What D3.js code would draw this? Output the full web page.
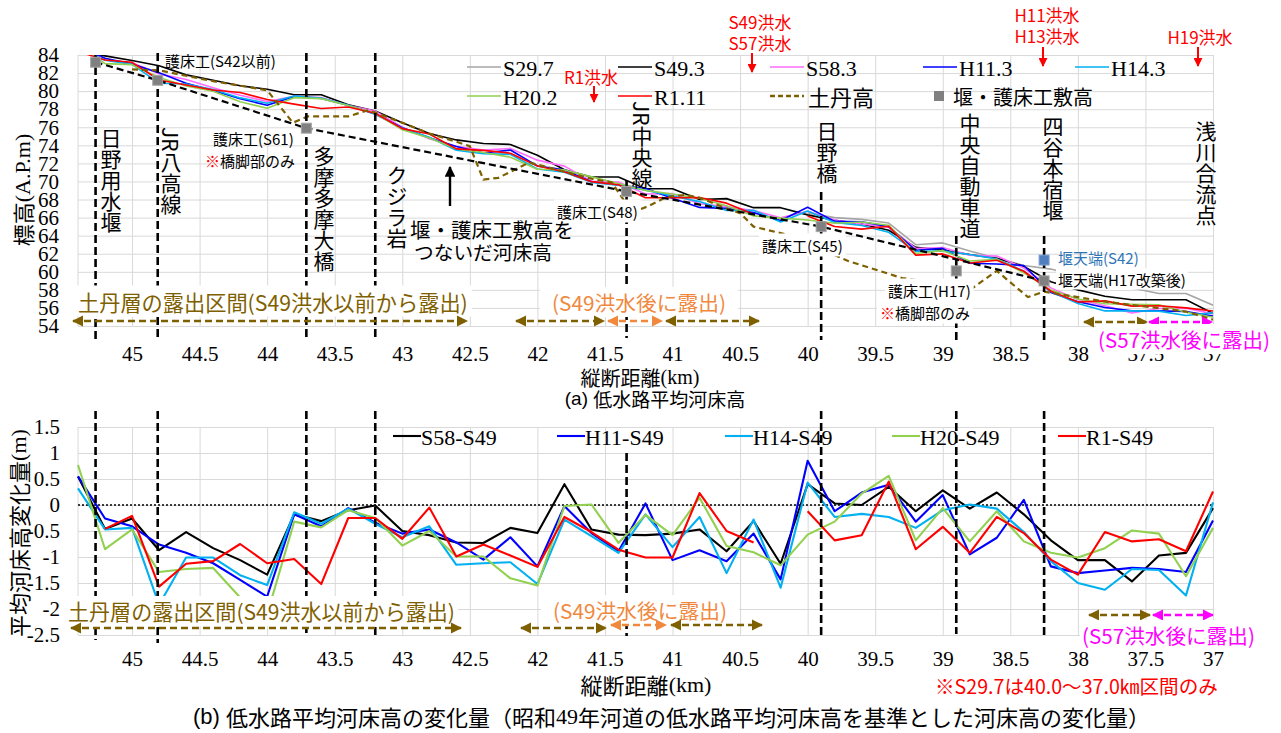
<!DOCTYPE html>
<html lang="ja">
<head>
<meta charset="utf-8">
<title>低水路平均河床高</title>
<script src="https://cdn.jsdelivr.net/npm/d3@7/dist/d3.min.js"></script>
<style>
  html, body { margin: 0; padding: 0; background: #fff; }
  svg { display: block; }
</style>
</head>
<body>
<svg id="chart" width="1281" height="733"></svg>
<script>
// ---------------- data ----------------
// survey sections (km from river mouth)
const sectionKm = [45.4, 45.2, 45.0, 44.8, 44.6, 44.4, 44.2, 44.0, 43.8, 43.6, 43.4, 43.2, 43.0, 42.8, 42.6,
  42.4, 42.2, 42.0, 41.8, 41.6, 41.4, 41.2, 41.0, 40.8, 40.6, 40.4, 40.2, 40.0, 39.8, 39.6, 39.4,
  39.2, 39.0, 38.8, 38.6, 38.4, 38.2, 38.0, 37.8, 37.6, 37.4, 37.2, 37.0];

// (a) mean low-water channel bed elevation, A.P.m
const bedS297 = [null, null, null, null, null, null, null, null, null, null, null, null, null, null, null,
  null, null, null, null, null, null, null, null, null, null, null, null, 66.5, 66.0, 65.8, 65.4,
  63.0, 63.2, 62.3, 61.5, 60.7, 60.3, 59.5, 58.9, 58.2, 57.6, 57.6, 56.3];
const bedS493 = [84.4, 83.9, 83.4, 82.8, 81.8, 81.2, 80.6, 80.2, 79.6, 79.6, 78.5, 77.8, 76.5, 75.3, 74.6,
  74.2, 74.1, 72.9, 71.3, 70.5, 70.5, 69.2, 69.2, 68.0, 68.1, 67.1, 67.1, 66.3, 65.7, 65.3, 64.6,
  62.7, 62.4, 61.9, 61.5, 60.6, 58.9, 58.0, 57.3, 56.9, 56.9, 56.9, 55.4];
const bedS583 = [84.95, 83.44, 83.14, 81.93, 81.28, 80.37, 79.54, 78.86, 79.42, 79.29, 78.40, 77.79, 76.00, 74.72, 73.88,
  73.47, 73.66, 72.36, 71.70, 70.03, 69.93, 68.62, 68.65, 67.53, 67.21, 66.79, 65.97, 66.70, 65.73, 65.30, 64.95,
  62.58, 62.68, 61.83, 61.74, 60.42, 58.22, 56.94, 56.24, 55.43, 55.93, 55.98, 55.34];
const bedH113 = [84.95, 83.64, 82.99, 82.04, 80.88, 80.08, 79.16, 78.44, 79.42, 79.19, 78.44, 77.46, 75.95, 74.83, 73.88,
  73.15, 73.48, 71.72, 71.28, 69.96, 69.61, 69.23, 68.14, 67.13, 67.02, 66.55, 65.67, 67.15, 65.58, 65.54, 64.99,
  62.38, 62.59, 60.95, 60.87, 60.70, 57.72, 56.69, 56.04, 55.69, 55.67, 55.61, 55.10];
const bedH143 = [84.72, 83.43, 82.96, 80.88, 80.79, 80.19, 79.25, 78.66, 79.46, 79.24, 78.43, 77.44, 75.88, 74.89, 73.45,
  73.08, 73.00, 71.38, 71.02, 69.90, 69.58, 69.02, 68.39, 67.77, 66.79, 66.82, 65.51, 66.73, 65.47, 65.13, 64.37,
  62.26, 62.30, 61.91, 61.43, 60.08, 57.82, 56.50, 55.67, 55.67, 55.65, 55.16, 55.45];
const bedH202 = [85.17, 83.05, 82.93, 81.51, 80.57, 79.99, 78.82, 78.10, 79.28, 79.17, 78.40, 77.55, 75.72, 74.80, 73.61,
  73.21, 72.69, 71.35, 71.28, 70.51, 69.77, 69.01, 68.62, 68.14, 67.31, 66.19, 65.94, 65.73, 65.38, 65.52, 65.16,
  62.02, 62.34, 61.20, 61.38, 59.90, 57.98, 56.99, 56.47, 56.41, 56.35, 55.53, 54.96];
const bedR111 = [84.4, 83.44, 83.19, 81.23, 80.67, 80.12, 79.85, 79.08, 78.56, 78.08, 78.25, 77.55, 75.85, 75.25, 73.61,
  73.44, 73.13, 71.71, 71.07, 69.98, 69.64, 68.19, 68.19, 68.23, 67.60, 66.38, null, 66.18, 65.02, 64.72, 65.05,
  61.85, 61.98, 60.98, 61.27, 60.06, 57.85, 56.66, 56.78, 56.20, 56.24, 56.01, 55.66];

// mudstone (土丹) top elevation
const dotanKm = [45.0, 44.8, 44.6, 44.4, 44.2, 44.0, 43.81, 43.7, 43.4, 43.25, 43.0, 42.8, 42.6, 42.5, 42.4,
  42.29, 42.06, 41.83, 41.6, 41.45, 41.3, 41.19, 41.04, 40.9, 40.8, 40.6, 40.5, 40.4, 40.15, 39.7,
  39.3, 38.78, 38.6, 38.37, 38.25, 37.8, 37.2, 37.0];
const dotanElev = [82.4, 82.3, 81.7, 81.1, 80.6, 80.1, 76.5, 77.2, 77.2, 77.9, 76.5, 75.3, 74.4, 73.9, 70.2,
  70.4, 72.1, 71.2, 70.3, 69.9, 66.6, 67.2, 68.3, 68.5, 68.2, 67.0, 66.5, 65.0, 64.1, 61.2,
  59.3, 58.2, 60.1, 57.2, 57.8, 56.7, 55.6, 54.7];

// weir / bed-protection crest elevations
const weirKm = [45.27, 44.81, 43.71, 41.34, 39.90, 38.90, 38.25];
const weirElev = [83.2, 81.2, 75.9, 68.9, 65.0, 60.1, 59.0];
const weirOldKm = [38.25];
const weirOldElev = [61.3];
// bed line joining the weir / bed-protection crests
const crestLinkKm = [45.27, 44.81, 43.71, 41.34, 39.90, 38.25];
const crestLinkElev = [83.2, 81.2, 75.9, 68.9, 65.0, 59.0];

// (b) change relative to S49 (m)
const diffS58 = [0.55, -0.46, -0.26, -0.87, -0.52, -0.83, -1.06, -1.34, -0.18, -0.31, -0.10, -0.01, -0.50, -0.58, -0.72,
  -0.73, -0.44, -0.54, 0.40, -0.47, -0.57, -0.58, -0.55, -0.47, -0.89, -0.31, -1.13, 0.40, 0.03, 0.00, 0.35,
  -0.12, 0.28, -0.07, 0.24, -0.18, -0.68, -1.06, -1.06, -1.47, -0.97, -0.92, -0.06];
const diffH11 = [0.55, -0.26, -0.41, -0.76, -0.92, -1.12, -1.44, -1.76, -0.18, -0.41, -0.06, -0.34, -0.55, -0.47, -0.72,
  -1.05, -0.62, -1.18, -0.02, -0.54, -0.89, 0.03, -1.06, -0.87, -1.08, -0.55, -1.43, 0.85, -0.12, 0.24, 0.39,
  -0.32, 0.19, -0.95, -0.63, 0.10, -1.18, -1.31, -1.26, -1.21, -1.23, -1.29, -0.30];
const diffH14 = [0.32, -0.47, -0.44, -1.92, -1.01, -1.01, -1.35, -1.54, -0.14, -0.36, -0.07, -0.36, -0.62, -0.41, -1.15,
  -1.12, -1.10, -1.52, -0.28, -0.60, -0.92, -0.18, -0.81, -0.23, -1.31, -0.28, -1.59, 0.43, -0.23, -0.17, -0.23,
  -0.44, -0.10, 0.01, -0.07, -0.52, -1.08, -1.50, -1.63, -1.23, -1.25, -1.74, 0.05];
const diffH20 = [0.77, -0.85, -0.47, -1.29, -1.23, -1.21, -1.78, -2.10, -0.32, -0.43, -0.10, -0.25, -0.78, -0.50, -0.99,
  -0.99, -1.41, -1.55, -0.02, 0.01, -0.73, -0.19, -0.58, 0.14, -0.79, -0.91, -1.16, -0.57, -0.32, 0.22, 0.56,
  -0.68, -0.06, -0.70, -0.12, -0.70, -0.92, -1.01, -0.83, -0.49, -0.55, -1.37, -0.44];
const diffR1 = [null, -0.46, -0.21, -1.57, -1.13, -1.08, -0.75, -1.12, -1.04, -1.52, -0.25, -0.25, -0.65, -0.05, -0.99,
  -0.76, -0.97, -1.19, -0.23, -0.52, -0.86, -1.01, -1.01, 0.23, -0.50, -0.72, null, -0.12, -0.68, -0.58, 0.45,
  -0.85, -0.42, -0.92, -0.23, -0.54, -1.05, -1.34, -0.52, -0.70, -0.66, -0.89, 0.26];

// axis ticks
const kmTicks = [45, 44.5, 44, 43.5, 43, 42.5, 42, 41.5, 41, 40.5, 40, 39.5, 39, 38.5, 38, 37.5, 37];
const elevTicks = [84, 82, 80, 78, 76, 74, 72, 70, 68, 66, 64, 62, 60, 58, 56, 54];
const diffTicks = [1.5, 1, 0.5, 0, -0.5, -1, -1.5, -2, -2.5];

// landmarks (structures crossing the river)
const landmarkKm = [45.27, 44.81, 43.71, 43.2, 41.34, 39.90, 38.90, 38.25];

// ---------------- setup ----------------
const JP = '"Noto Sans CJK JP", "Noto Sans", sans-serif';
const SERIF = '"Liberation Serif", "DejaVu Serif", serif';
const SANS = '"Liberation Sans", Arial, sans-serif';
const BROWN = "#7f6000", ORANGE = "#f0883e", MAGENTA = "#ff00ff", GRID = "#d9d9d9";

const svg = d3.select("#chart");
const defs = svg.append("defs");

const X0 = 78, X1 = 1213;
const panelA = { top: 55, bottom: 326 };
const panelB = { top: 427, bottom: 635 };

const x = d3.scaleLinear().domain([45.4, 37.0]).range([X0, X1]);
const yA = d3.scaleLinear().domain([54, 84]).range([panelA.bottom, panelA.top]);
const yB = d3.scaleLinear().domain([-2.5, 1.5]).range([panelB.bottom, panelB.top]);

// arrow heads
function headMarker(id, color, size) {
  defs.append("marker").attr("id", id)
    .attr("viewBox", "0 0 10 10").attr("refX", 9).attr("refY", 5)
    .attr("markerWidth", size).attr("markerHeight", size)
    .attr("orient", "auto-start-reverse")
    .append("path").attr("d", "M0,0L10,5L0,10z").attr("fill", color);
}
headMarker("hBrown", BROWN, 4.4);
headMarker("hOrange", ORANGE, 4.4);
headMarker("hMagenta", MAGENTA, 4.4);
headMarker("hRed", "#ff0000", 4.5);
headMarker("hBlack", "#000", 4.5);

// text helper
function addText(parent, o) {
  const t = parent.append("text")
    .attr("x", o.x).attr("y", o.y)
    .attr("font-family", o.family || JP)
    .attr("font-size", o.size)
    .attr("fill", o.color || "#000")
    .attr("text-anchor", o.anchor || "start");
  if (!o.vertical) t.attr("dominant-baseline", "central");
  if (o.vertical) t.style("writing-mode", "vertical-rl").style("text-orientation", "mixed");
  if (o.weight) t.attr("font-weight", o.weight);
  if (o.rotate) t.attr("transform", `rotate(${o.rotate},${o.x},${o.y})`);
  if (o.parts) {
    o.parts.forEach(p => {
      const s = t.append("tspan").text(p.text);
      if (p.color) s.attr("fill", p.color);
      if (p.family) s.attr("font-family", p.family);
    });
  } else {
    t.text(o.text);
  }
  if (o.width) {
    const w = t.node().getComputedTextLength();
    if (w > 0) t.attr("font-size", o.size * o.width / w);
  }
  if (o.bg) {
    const b = t.node().getBBox();
    const px = o.padX != null ? o.padX : 2, py = o.padY != null ? o.padY : 0;
    parent.insert("rect", () => t.node())
      .attr("x", b.x - px).attr("y", b.y - py)
      .attr("width", b.width + 2 * px).attr("height", b.height + 2 * py)
      .attr("fill", "#fff");
  }
  return t;
}

function gridFor(g, y, ticks, p) {
  g.append("g").attr("transform", `translate(0,${p.bottom})`)
    .call(d3.axisBottom(x).tickValues(kmTicks).tickSize(-(p.bottom - p.top)).tickFormat(""))
    .call(s => s.select(".domain").remove())
    .call(s => s.selectAll("line").attr("stroke", GRID).attr("stroke-width", 1));
  g.append("g").attr("transform", `translate(${X0},0)`)
    .call(d3.axisLeft(y).tickValues(ticks).tickSize(-(X1 - X0)).tickFormat(""))
    .call(s => s.select(".domain").remove())
    .call(s => s.selectAll("line").attr("stroke", GRID).attr("stroke-width", 1));
  g.append("line").attr("x1", X0).attr("x2", X0).attr("y1", p.top).attr("y2", p.bottom)
    .attr("stroke", GRID);
}

function tickLabels(g, y, ticks, p, xPad, yPad) {
  g.append("g").attr("transform", `translate(0,${p.bottom})`)
    .call(d3.axisBottom(x).tickValues(kmTicks).tickSize(0).tickPadding(xPad).tickFormat(d => String(d)))
    .call(s => s.select(".domain").remove())
    .call(s => s.selectAll("text").attr("font-family", SERIF).attr("font-size", 21).attr("fill", "#000"));
  g.append("g").attr("transform", `translate(${X0},0)`)
    .call(d3.axisLeft(y).tickValues(ticks).tickSize(0).tickPadding(yPad).tickFormat(d => String(d)))
    .call(s => s.select(".domain").remove())
    .call(s => s.selectAll("text").attr("font-family", SERIF).attr("font-size", 21).attr("fill", "#000"));
}

function dashedArrow(g, x1, x2, yy, color, marker) {
  g.append("line").attr("x1", x1).attr("x2", x2).attr("y1", yy).attr("y2", yy)
    .attr("stroke", color).attr("stroke-width", 2.6).attr("stroke-dasharray", "7,4")
    .attr("marker-start", `url(#${marker})`).attr("marker-end", `url(#${marker})`);
}

function landmarkLine(g, km, y1, y2) {
  g.append("line").attr("x1", x(km)).attr("x2", x(km)).attr("y1", y1).attr("y2", y2)
    .attr("stroke", "#000").attr("stroke-width", 2.6).attr("stroke-dasharray", "8,4");
}

// ================= panel (a) =================
const gA = svg.append("g");
gridFor(gA, yA, elevTicks, panelA);

defs.append("clipPath").attr("id", "clipA").append("rect")
  .attr("x", X0).attr("y", panelA.top).attr("width", X1 - X0).attr("height", panelA.bottom - panelA.top);

const lineA = d3.line().defined(d => d[1] != null).x(d => x(d[0])).y(d => yA(d[1]));
const seriesA = [
  { name: "S29.7", values: bedS297, color: "#a6a6a6" },
  { name: "S49.3", values: bedS493, color: "#000000" },
  { name: "S58.3", values: bedS583, color: "#ff6cff" },
  { name: "H11.3", values: bedH113, color: "#0000ff" },
  { name: "H14.3", values: bedH143, color: "#00b0f0" },
  { name: "H20.2", values: bedH202, color: "#92d050" },
  { name: "R1.11", values: bedR111, color: "#ff0000" }
];
const dataA = gA.append("g").attr("clip-path", "url(#clipA)");
dataA.selectAll("path.bed").data(seriesA).join("path").attr("class", "bed")
  .attr("d", s => lineA(d3.zip(sectionKm, s.values)))
  .attr("fill", "none").attr("stroke", s => s.color).attr("stroke-width", 1.6)
  .attr("stroke-linejoin", "round");

// mudstone top
dataA.append("path").attr("d", lineA(d3.zip(dotanKm, dotanElev)))
  .attr("fill", "none").attr("stroke", BROWN).attr("stroke-width", 2.2).attr("stroke-dasharray", "6,4");

// line joining crest elevations
gA.append("path").attr("d", lineA(d3.zip(crestLinkKm, crestLinkElev)))
  .attr("fill", "none").attr("stroke", "#000").attr("stroke-width", 2.2).attr("stroke-dasharray", "7,4");

// landmark dashed verticals (panel a)
const landmarkSpanA = [[55, 340], [53, 340], [53, 340], [53, 338], [180, 338], [192, 340], [236, 340], [236, 340]];
landmarkKm.forEach((km, i) => landmarkLine(gA, km, landmarkSpanA[i][0], landmarkSpanA[i][1]));

// weir markers
gA.selectAll("rect.weir").data(d3.zip(weirKm, weirElev)).join("rect").attr("class", "weir")
  .attr("x", d => x(d[0]) - 5).attr("y", d => yA(d[1]) - 5).attr("width", 10).attr("height", 10)
  .attr("fill", "#808080").attr("stroke", "#a6a6a6").attr("stroke-width", 1);
gA.selectAll("rect.weirOld").data(d3.zip(weirOldKm, weirOldElev)).join("rect").attr("class", "weirOld")
  .attr("x", d => x(d[0]) - 5).attr("y", d => yA(d[1]) - 5).attr("width", 10).attr("height", 10)
  .attr("fill", "#4f7fbf").attr("stroke", "#7f9fcf").attr("stroke-width", 1);

tickLabels(gA, yA, elevTicks, panelA, 20, 19);

// axis titles
addText(gA, { x: 22, y: 190, size: 22, anchor: "middle", rotate: -90,
  parts: [{ text: "標高" }, { text: "(A.P.m)", family: SERIF }] });
addText(gA, { x: 640, y: 377, size: 20, anchor: "middle",
  parts: [{ text: "縦断距離" }, { text: "(km)", family: SERIF }] });
addText(gA, { x: 655, y: 398, size: 19, anchor: "middle",
  parts: [{ text: "(a) ", family: SANS }, { text: "低水路平均河床高" }] });

// legend (panel a)
const legendA = [
  { label: "S29.7", color: "#a6a6a6", x: 467, y: 67 },
  { label: "S49.3", color: "#000000", x: 618, y: 67 },
  { label: "S58.3", color: "#ff6cff", x: 770, y: 67 },
  { label: "H11.3", color: "#0000ff", x: 923, y: 67 },
  { label: "H14.3", color: "#00b0f0", x: 1075, y: 67 },
  { label: "H20.2", color: "#92d050", x: 467, y: 96 },
  { label: "R1.11", color: "#ff0000", x: 618, y: 96 }
];
legendA.forEach(l => {
  gA.append("line").attr("x1", l.x).attr("x2", l.x + 34).attr("y1", l.y).attr("y2", l.y)
    .attr("stroke", l.color).attr("stroke-width", 1.6);
  addText(gA, { x: l.x + 36, y: l.y + 1, size: 22, family: SERIF, text: l.label });
});
gA.append("line").attr("x1", 770).attr("x2", 804).attr("y1", 96).attr("y2", 96)
  .attr("stroke", BROWN).attr("stroke-width", 2.4).attr("stroke-dasharray", "5,3");
addText(gA, { x: 808, y: 96, size: 22, text: "土丹高" });
gA.append("rect").attr("x", 934).attr("y", 91).attr("width", 10).attr("height", 10).attr("fill", "#808080");
addText(gA, { x: 953, y: 96, size: 20, text: "堰・護床工敷高" });

// flood events
const floodText = [
  { t: "R1洪水", x: 591, y: 76 },
  { t: "S49洪水", x: 760, y: 21 },
  { t: "S57洪水", x: 760, y: 42 },
  { t: "H11洪水", x: 1047, y: 14 },
  { t: "H13洪水", x: 1047, y: 35 },
  { t: "H19洪水", x: 1200, y: 36 }
];
floodText.forEach(f => addText(gA, { x: f.x, y: f.y, size: 17, anchor: "middle", color: "#ff0000", text: f.t }));
[[594, 86, 102], [752, 53, 72], [1043, 47, 66], [1198, 47, 66]].forEach(a => {
  gA.append("line").attr("x1", a[0]).attr("x2", a[0]).attr("y1", a[1]).attr("y2", a[2])
    .attr("stroke", "#ff0000").attr("stroke-width", 2).attr("marker-end", "url(#hRed)");
});

// structure names (vertical)
const structureLabels = [
  ["日野用水堰", 111, 128], ["JR八高線", 171, 127], ["多摩多摩大橋", 324, 146], ["クジラ岩", 397, 165],
  ["JR中央線", 642, 101], ["日野橋", 827, 121], ["中央自動車道", 970, 113], ["四谷本宿堰", 1053, 116],
  ["浅川合流点", 1206, 121]
];
structureLabels.forEach(s => addText(gA, { x: s[1], y: s[2], size: 21, vertical: true, text: s[0] }));

// bed-protection notes
addText(gA, { x: 165, y: 60, size: 15, text: "護床工(S42以前)" });
addText(gA, { x: 213, y: 138, size: 15, text: "護床工(S61)" });
addText(gA, { x: 205, y: 160, size: 15, parts: [{ text: "※", color: "#ff0000" }, { text: "橋脚部のみ" }] });
addText(gA, { x: 557, y: 211, size: 15, text: "護床工(S48)", bg: true, padX: 3, padY: 1 });
addText(gA, { x: 762, y: 245, size: 15, text: "護床工(S45)", bg: true, padX: 3, padY: 1 });
addText(gA, { x: 888, y: 290, size: 15, text: "護床工(H17)", bg: true, padX: 3, padY: 1 });
addText(gA, { x: 880, y: 312, size: 15, bg: true, padX: 3, padY: 1,
  parts: [{ text: "※", color: "#ff0000" }, { text: "橋脚部のみ" }] });
addText(gA, { x: 1058, y: 257, size: 15, color: "#2e75b6", text: "堰天端(S42)" });
addText(gA, { x: 1058, y: 279, size: 15, text: "堰天端(H17改築後)", bg: true, padX: 2, padY: 0 });

// joined-crest note with arrow
gA.append("line").attr("x1", 450).attr("x2", 450).attr("y1", 206).attr("y2", 167)
  .attr("stroke", "#000").attr("stroke-width", 2.4).attr("marker-end", "url(#hBlack)");
addText(gA, { x: 410, y: 229, size: 19, width: 164, text: "堰・護床工敷高を" });
addText(gA, { x: 414, y: 251, size: 19, width: 138, text: "つないだ河床高" });

// exposure ranges (panel a)
addText(gA, { x: 78, y: 301, size: 21, color: BROWN, width: 390, text: "土丹層の露出区間(S49洪水以前から露出)", bg: true, padX: 4 });
addText(gA, { x: 552, y: 302, size: 21, color: ORANGE, width: 174, text: "(S49洪水後に露出)", bg: true, padX: 12 });
dashedArrow(gA, 73, 467, 321, BROWN, "hBrown");
dashedArrow(gA, 516, 604, 321, BROWN, "hBrown");
dashedArrow(gA, 608, 662, 321, ORANGE, "hOrange");
dashedArrow(gA, 666, 759, 321, BROWN, "hBrown");
dashedArrow(gA, 1084, 1147, 322, BROWN, "hBrown");
dashedArrow(gA, 1149, 1212, 322, MAGENTA, "hMagenta");
addText(gA, { x: 1098, y: 339, size: 21, color: MAGENTA, width: 172, text: "(S57洪水後に露出)", bg: true, padX: 2 });

// ================= panel (b) =================
const gB = svg.append("g");
gridFor(gB, yB, diffTicks, panelB);

// zero line
gB.append("line").attr("x1", X0).attr("x2", X1).attr("y1", yB(0)).attr("y2", yB(0))
  .attr("stroke", "#000").attr("stroke-width", 1.6).attr("stroke-dasharray", "2,2");

const lineB = d3.line().defined(d => d[1] != null).x(d => x(d[0])).y(d => yB(d[1]));
const seriesB = [
  { name: "S58-S49", values: diffS58, color: "#000000" },
  { name: "H11-S49", values: diffH11, color: "#0000ff" },
  { name: "H14-S49", values: diffH14, color: "#00b0f0" },
  { name: "H20-S49", values: diffH20, color: "#92d050" },
  { name: "R1-S49", values: diffR1, color: "#ff0000" }
];
gB.append("g").selectAll("path").data(seriesB).join("path")
  .attr("d", s => lineB(d3.zip(sectionKm, s.values)))
  .attr("fill", "none").attr("stroke", s => s.color).attr("stroke-width", 2.1)
  .attr("stroke-linejoin", "round");

// legend (panel b)
const legendB = [
  { label: "S58-S49", color: "#000000", x: 393 },
  { label: "H11-S49", color: "#0000ff", x: 557 },
  { label: "H14-S49", color: "#00b0f0", x: 725 },
  { label: "H20-S49", color: "#92d050", x: 892 },
  { label: "R1-S49", color: "#ff0000", x: 1058 }
];
legendB.forEach(l => {
  gB.append("line").attr("x1", l.x).attr("x2", l.x + 28).attr("y1", 436).attr("y2", 436)
    .attr("stroke", l.color).attr("stroke-width", 2.1);
  addText(gB, { x: l.x + 28, y: 437, size: 22, family: SERIF, text: l.label });
});

const landmarkSpanB = [[411, 640], [411, 643], [411, 633], [411, 638], [453, 636], [411, 636], [411, 634], [411, 637]];
landmarkKm.forEach((km, i) => landmarkLine(gB, km, landmarkSpanB[i][0], landmarkSpanB[i][1]));

tickLabels(gB, yB, diffTicks, panelB, 16, 18);

addText(gB, { x: 18, y: 533, size: 22, anchor: "middle", rotate: -90,
  parts: [{ text: "平均河床高変化量" }, { text: "(m)", family: SERIF }] });
addText(gB, { x: 646, y: 684, size: 22, anchor: "middle",
  parts: [{ text: "縦断距離" }, { text: "(km)", family: SERIF }] });
addText(gB, { x: 935, y: 685, size: 19, color: "#ff0000", width: 283, text: "※S29.7は40.0～37.0㎞区間のみ" });
addText(gB, { x: 193, y: 716, size: 20, width: 957,
  parts: [{ text: "(b) ", family: SANS }, { text: "低水路平均河床高の変化量（昭和" },
          { text: "49", family: SERIF }, { text: "年河道の低水路平均河床高を基準とした河床高の変化量）" }] });

// exposure ranges (panel b)
addText(gB, { x: 68, y: 611, size: 21, color: BROWN, width: 387, text: "土丹層の露出区間(S49洪水以前から露出)", bg: true, padX: 3 });
addText(gB, { x: 553, y: 610, size: 21, color: ORANGE, width: 174, text: "(S49洪水後に露出)", bg: true, padX: 12 });
dashedArrow(gB, 71, 461, 628, BROWN, "hBrown");
dashedArrow(gB, 521, 606, 628, BROWN, "hBrown");
dashedArrow(gB, 611, 666, 625, ORANGE, "hOrange");
dashedArrow(gB, 671, 762, 625, BROWN, "hBrown");
dashedArrow(gB, 1089, 1150, 615, BROWN, "hBrown");
dashedArrow(gB, 1153, 1213, 615, MAGENTA, "hMagenta");
addText(gB, { x: 1082, y: 635, size: 21, color: MAGENTA, width: 173, text: "(S57洪水後に露出)", bg: true, padX: 2 });
</script>
</body>
</html>
